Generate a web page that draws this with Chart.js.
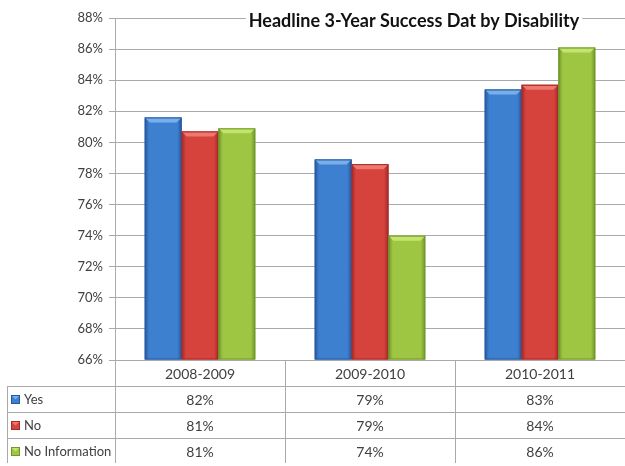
<!DOCTYPE html>
<html>
<head>
<meta charset="utf-8">
<script src="https://cdn.jsdelivr.net/npm/chart.js@4.4.0/dist/chart.umd.min.js"></script>
<style>
  html, body { margin: 0; padding: 0; background: #fff; }
  canvas { display: block; }
</style>
</head>
<body>
<canvas id="chart" width="625" height="466"></canvas>
<script>
// Data
var categories = ['2008-2009', '2009-2010', '2010-2011'];
var yesData = [81.6, 78.9, 83.4];
var noData = [80.7, 78.6, 83.7];
var noInfoData = [80.9, 74.0, 86.1];
var seriesNames = ['Yes', 'No', 'No Information'];
var yTicks = [66, 68, 70, 72, 74, 76, 78, 80, 82, 84, 86, 88];
var titleText = 'Headline 3-Year Success Dat by Disability';

// body, edge, bevel colours for each series
var palette = [
    { body: 'rgb(62,128,208)', edge: 'rgb(38,88,158)', light: 'rgb(120,175,235)' },
    { body: 'rgb(214,66,60)', edge: 'rgb(165,42,40)', light: 'rgb(238,120,110)' },
    { body: 'rgb(158,198,66)', edge: 'rgb(112,150,44)', light: 'rgb(195,228,110)' }
];

var FONT = 'Lato, "Open Sans", sans-serif';
var TEXT = '#404040';
var LINE = '#aaaaaa';
var ROW_H = 26;

function drawBevelBar(ctx, left, top, w, h, c) {
    if (h <= 0) return;
    var g = ctx.createLinearGradient(left, 0, left + w, 0);
    g.addColorStop(0, c.edge);
    g.addColorStop(0.12, c.body);
    g.addColorStop(0.5, c.body);
    g.addColorStop(0.88, c.body);
    g.addColorStop(1, c.edge);
    ctx.fillStyle = g;
    ctx.fillRect(left, top, w, h);
    // top bevel
    var b = Math.min(5, h / 2);
    ctx.fillStyle = c.light;
    ctx.beginPath();
    ctx.moveTo(left, top);
    ctx.lineTo(left + w, top);
    ctx.lineTo(left + w - b, top + b);
    ctx.lineTo(left + b, top + b);
    ctx.closePath();
    ctx.fill();
    ctx.strokeStyle = c.edge;
    ctx.lineWidth = 1;
    ctx.strokeRect(left + 0.5, top + 0.5, w - 1, h - 1);
}

var bevelPlugin = {
    id: 'bevel',
    afterDatasetsDraw: function (chart) {
        var ctx = chart.ctx;
        var area = chart.chartArea;
        ctx.save();
        chart.data.datasets.forEach(function (ds, di) {
            var meta = chart.getDatasetMeta(di);
            meta.data.forEach(function (bar) {
                var left = bar.x - bar.width / 2;
                var base = Math.min(bar.base, area.bottom);
                drawBevelBar(ctx, left, bar.y, bar.width, base - bar.y, palette[di]);
            });
        });
        ctx.restore();
    }
};

var tablePlugin = {
    id: 'dataTable',
    afterDraw: function (chart) {
        var ctx = chart.ctx;
        var area = chart.chartArea;
        var xs = chart.scales.x;
        var colW = (area.right - area.left) / categories.length;
        var top = area.bottom;
        var rows = seriesNames.length;
        var bottom = top + ROW_H * (rows + 1) - 1;
        ctx.save();
        ctx.strokeStyle = LINE;
        ctx.lineWidth = 1;
        // axis line + row lines
        ctx.beginPath();
        ctx.moveTo(area.left - 6, top + 0.5);
        ctx.lineTo(area.right, top + 0.5);
        for (var r = 1; r <= rows; r++) {
            var yy = Math.round(top + ROW_H * r) + 0.5;
            ctx.moveTo(7, yy);
            ctx.lineTo(area.right, yy);
        }
        // column lines
        for (var c = 0; c <= categories.length; c++) {
            var xx = Math.round(area.left + colW * c) + 0.5;
            ctx.moveTo(xx, top);
            ctx.lineTo(xx, bottom);
        }
        ctx.moveTo(7.5, top + ROW_H);
        ctx.lineTo(7.5, bottom);
        ctx.stroke();

        ctx.fillStyle = TEXT;
        ctx.font = '14px ' + FONT;
        ctx.textAlign = 'center';
        ctx.textBaseline = 'middle';
        categories.forEach(function (cat, i) {
            ctx.fillText(cat, xs.getPixelForValue(i), top + ROW_H / 2 + 1);
        });
        chart.data.datasets.forEach(function (ds, di) {
            var cy = top + ROW_H * (di + 1) + ROW_H / 2 + 1;
            ctx.font = '14px ' + FONT;
            ds.data.forEach(function (v, i) {
                ctx.fillStyle = TEXT;
                ctx.textAlign = 'center';
                ctx.fillText(Math.round(v) + '%', xs.getPixelForValue(i), cy);
            });
            // legend key
            drawBevelBar(ctx, 11, Math.round(cy - 5), 9, 9, palette[di]);
            ctx.fillStyle = TEXT;
            ctx.textAlign = 'left';
            ctx.font = '13px ' + FONT;
            ctx.fillText(ds.label, 24, cy);
        });
        ctx.restore();
    }
};

var titlePlugin = {
    id: 'cornerTitle',
    beforeDatasetsDraw: function (chart) {
        var ctx = chart.ctx;
        ctx.save();
        ctx.font = 'bold 18px ' + FONT;
        var w = ctx.measureText(titleText).width;
        var cx = 414;
        ctx.fillStyle = '#fff';
        ctx.fillRect(cx - w / 2 - 3, 9, w + 6, 24);
        ctx.fillStyle = '#111';
        ctx.textAlign = 'center';
        ctx.textBaseline = 'middle';
        ctx.fillText(titleText, cx, 21);
        ctx.restore();
    }
};

var ctx = document.getElementById('chart').getContext('2d');
new Chart(ctx, {
    type: 'bar',
    data: {
        labels: categories,
        datasets: [
            { label: seriesNames[0], data: yesData, backgroundColor: palette[0].body, base: yTicks[0] },
            { label: seriesNames[1], data: noData, backgroundColor: palette[1].body, base: yTicks[0] },
            { label: seriesNames[2], data: noInfoData, backgroundColor: palette[2].body, base: yTicks[0] }
        ]
    },
    options: {
        responsive: false,
        animation: false,
        categoryPercentage: 0.65,
        barPercentage: 1.0,
        layout: { padding: { top: 18, right: 0, left: 0, bottom: 0 } },
        plugins: {
            legend: { display: false },
            title: { display: false },
            tooltip: { enabled: false }
        },
        scales: {
            x: {
                ticks: { display: false },
                grid: { display: false },
                border: { display: false },
                afterFit: function (s) { s.height = 106; }
            },
            y: {
                min: yTicks[0],
                max: yTicks[yTicks.length - 1],
                afterBuildTicks: function (s) {
                    s.ticks = yTicks.map(function (v) { return { value: v }; });
                },
                ticks: {
                    color: TEXT,
                    font: { family: FONT, size: 13 },
                    padding: 6,
                    callback: function (v) { return v + '%'; }
                },
                grid: { color: LINE, tickLength: 6 },
                border: { color: LINE },
                afterFit: function (s) { s.width = 115; }
            }
        }
    },
    plugins: [titlePlugin, bevelPlugin, tablePlugin]
});
</script>
</body>
</html>
